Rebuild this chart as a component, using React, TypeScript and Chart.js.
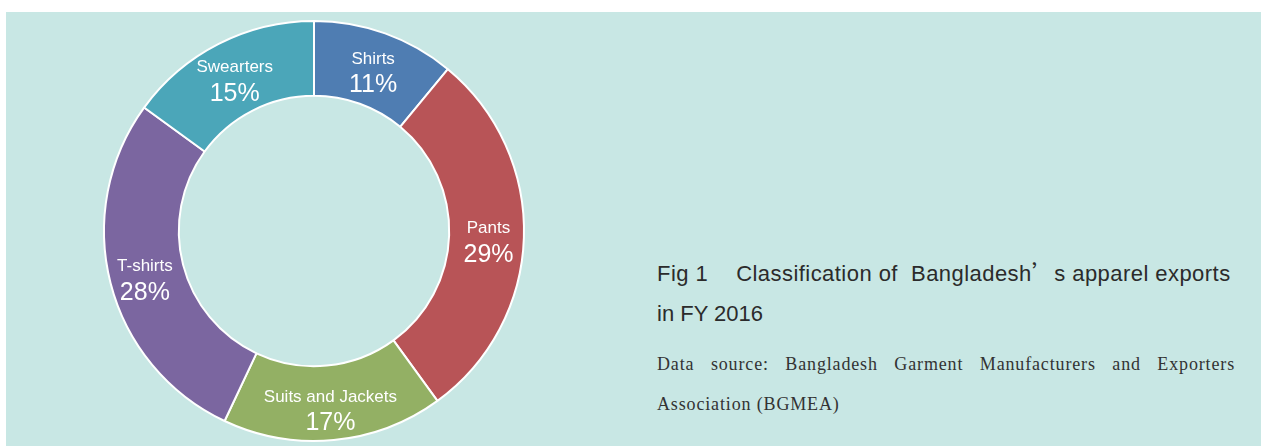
import React, { useEffect, useRef } from "react";
import { Chart, registerables } from "chart.js";

Chart.register(...registerables);

const categories = ["Shirts", "Pants", "Suits and Jackets", "T-shirts", "Swearters"];
const shares = [11, 29, 17, 28, 15];
const colors = ["#4F7DB2", "#B85457", "#93B064", "#7B66A0", "#4BA6B9"];

const labelPlugin = {
  id: "ringLabels",
  afterDatasetsDraw(chart: any) {
    const ctx = chart.ctx;
    const meta = chart.getDatasetMeta(0);
    ctx.save();
    ctx.fillStyle = "#ffffff";
    ctx.textAlign = "center";
    ctx.textBaseline = "alphabetic";
    meta.data.forEach((arc: any, i: number) => {
      const p = arc.getProps(["x", "y", "startAngle", "endAngle", "innerRadius", "outerRadius"], true);
      const mid = (p.startAngle + p.endAngle) / 2;
      const r = (p.innerRadius + p.outerRadius) / 2 + 2;
      const cx = p.x + Math.cos(mid) * r;
      const cy = p.y + Math.sin(mid) * r;
      ctx.font = '17px "Liberation Sans", Arial, sans-serif';
      ctx.fillText(categories[i], cx, cy - 3);
      ctx.font = '25px "Liberation Sans", Arial, sans-serif';
      ctx.fillText(shares[i] + "%", cx, cy + 25.5);
    });
    ctx.restore();
  },
};

export default function App() {
  const ref = useRef<HTMLCanvasElement | null>(null);
  useEffect(() => {
    if (!ref.current) return;
    const chart = new Chart(ref.current, {
      type: "doughnut",
      data: {
        labels: categories,
        datasets: [
          {
            data: shares,
            backgroundColor: colors,
            borderColor: "#ffffff",
            borderWidth: 2,
          },
        ],
      },
      options: {
        responsive: false,
        animation: false,
        devicePixelRatio: 1,
        radius: 210,
        cutout: 141,
        layout: { padding: 0 },
        plugins: {
          legend: { display: false },
          tooltip: { enabled: false },
        },
      } as any,
      plugins: [labelPlugin],
    });
    return () => chart.destroy();
  }, []);

  return (
    <div
      style={{
        position: "absolute",
        left: 6,
        top: 12,
        width: 1255,
        height: 434,
        background: "#C8E7E4",
        overflow: "hidden",
      }}
    >
      <canvas
        ref={ref}
        width={440}
        height={440}
        style={{ position: "absolute", left: 88, top: -1, width: 440, height: 440 }}
      />
      <div
        style={{
          position: "absolute",
          left: 651,
          top: 239,
          width: 600,
          fontFamily: '"Liberation Sans", Arial, sans-serif',
          fontSize: 22,
          color: "#2B2B2B",
          lineHeight: "40px",
          whiteSpace: "pre",
        }}
      >
        <div style={{ letterSpacing: "0.45px" }}>
          Fig 1<span style={{ display: "inline-block", width: 28 }} />Classification of  Bangladesh
          <span style={{ fontFamily: '"Noto Sans CJK SC"' }}>’</span>s apparel exports
        </div>
        <div>in FY 2016</div>
      </div>
      <div
        style={{
          position: "absolute",
          left: 651,
          top: 332,
          width: 578,
          fontFamily: '"Liberation Serif", "DejaVu Serif", serif',
          fontSize: 18,
          color: "#333333",
          lineHeight: "40px",
          letterSpacing: "0.85px",
          textAlign: "justify",
          textAlignLast: "left" as any,
        }}
      >
        Data source: Bangladesh Garment Manufacturers and Exporters Association (BGMEA)
      </div>
    </div>
  );
}
